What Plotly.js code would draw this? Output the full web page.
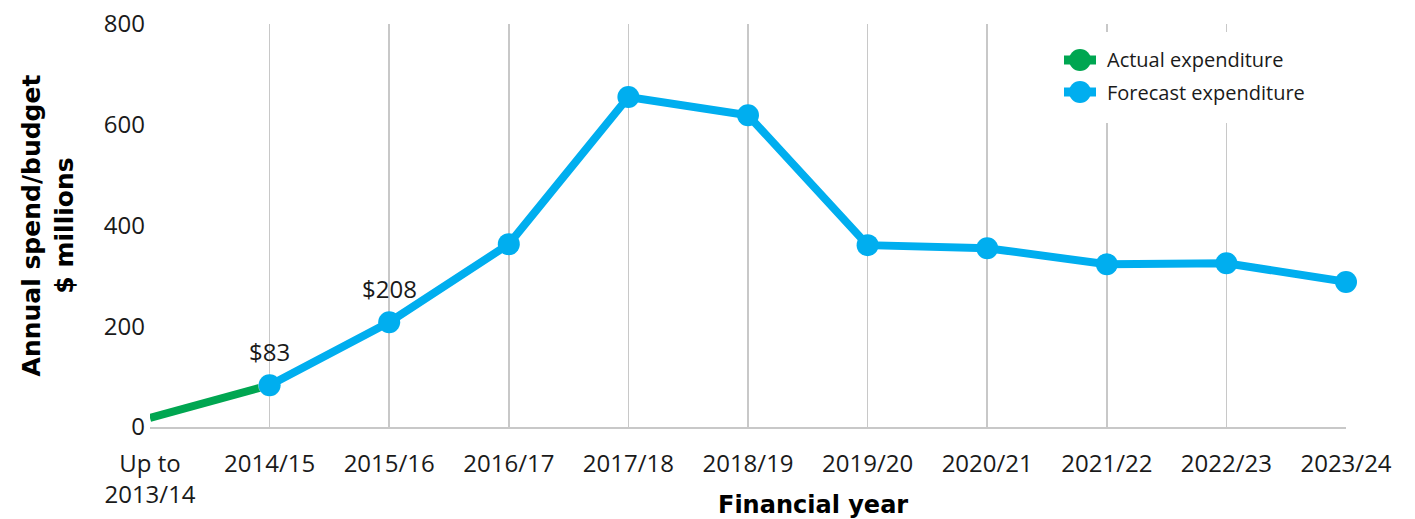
<!DOCTYPE html>
<html>
<head>
<meta charset="utf-8">
<script src="https://cdn.plot.ly/plotly-3.0.1.min.js"></script>
<style>html,body{margin:0;padding:0;background:#fff;}#chart{width:1415px;height:519px;}</style>
</head>
<body>
<div id="chart"></div>
<script>
const categories = ["Up to<br>2013/14", "2014/15", "2015/16", "2016/17", "2017/18", "2018/19", "2019/20", "2020/21", "2021/22", "2022/23", "2023/24"];
const actualCats = ["Up to<br>2013/14", "2014/15"];
const actualValues = [18, 83];
const forecastCats = ["2014/15", "2015/16", "2016/17", "2017/18", "2018/19", "2019/20", "2020/21", "2021/22", "2022/23", "2023/24"];
const forecastValues = [83, 208, 363, 655, 619, 361, 355, 323, 325, 288];
const labelCats = ["2014/15", "2015/16"];
const labelValues = [83, 208];
const yTicks = [0, 200, 400, 600, 800];
const legendNames = ["Actual expenditure", "Forecast expenditure"];

const green = "#00A651";
const blue = "#00AEEF";
const legendColors = [green, blue];

// layout geometry (pixels)
const W = 1415, H = 519, ML = 150, MR = 69, MT = 24, MB = 92;
const PW = W - ML - MR, PH = H - MT - MB;
const xp = px => (px - ML) / PW;
const yp = py => (H - MB - py) / PH;

const traces = [
  {
    type: "scatter", mode: "lines+markers", name: legendNames[0],
    x: actualCats, y: actualValues,
    line: {color: green, width: 8},
    marker: {color: green, size: actualValues.map((v, i) => i === 0 ? 0 : 22)},
    cliponaxis: false, hoverinfo: "skip"
  },
  {
    type: "scatter", mode: "lines+markers", name: legendNames[1],
    x: forecastCats, y: forecastValues,
    line: {color: blue, width: 8},
    marker: {color: blue, size: 22},
    cliponaxis: false, hoverinfo: "skip"
  }
];

const annotations = labelCats.map((c, i) => ({
  x: c, y: labelValues[i], xref: "x", yref: "y",
  text: "$" + labelValues[i], showarrow: false, yshift: 34,
  font: {family: "Open Sans, sans-serif", size: 24, color: "#1a1a1a"}
}));

annotations.push({
  xref: "paper", yref: "paper", x: xp(813), y: yp(505),
  xanchor: "center", yanchor: "middle", showarrow: false,
  text: "<b>Financial year</b>",
  font: {family: "DejaVu Sans, sans-serif", size: 24, color: "#000"}
});

const shapes = [{
  type: "rect", xref: "paper", yref: "paper", layer: "above",
  x0: xp(1045), x1: xp(1338), y0: yp(123), y1: yp(32),
  fillcolor: "#fff", line: {width: 0}
}];

const legendY = [60, 92];
legendNames.forEach((name, i) => {
  shapes.push({
    type: "line", xref: "paper", yref: "paper", layer: "above",
    x0: xp(1064), x1: xp(1096), y0: yp(legendY[i]), y1: yp(legendY[i]),
    line: {color: legendColors[i], width: 9}
  });
  shapes.push({
    type: "circle", xref: "paper", yref: "paper", layer: "above",
    xsizemode: "pixel", ysizemode: "pixel",
    xanchor: xp(1080), yanchor: yp(legendY[i]),
    x0: -11, x1: 11, y0: -11, y1: 11,
    fillcolor: legendColors[i], line: {width: 0}
  });
  annotations.push({
    xref: "paper", yref: "paper", x: xp(1105), y: yp(legendY[i]),
    xanchor: "left", yanchor: "middle", showarrow: false,
    text: name,
    font: {family: "Open Sans, sans-serif", size: 20, color: "#1a1a1a"}
  });
});

const layout = {
  width: W, height: H,
  margin: {l: ML, r: MR, t: MT, b: MB},
  paper_bgcolor: "#fff", plot_bgcolor: "#fff",
  showlegend: false,
  xaxis: {
    type: "category", categoryorder: "array", categoryarray: categories,
    tickvals: categories, ticktext: categories,
    range: [0, categories.length - 1],
    showgrid: true, gridcolor: "#c8c8c8", gridwidth: 1.5,
    showline: true, linecolor: "#c8c8c8", linewidth: 2,
    ticks: "", ticklabelstandoff: 14,
    tickfont: {family: "Open Sans, sans-serif", size: 24, color: "#1a1a1a"},
    fixedrange: true
  },
  yaxis: {
    range: [0, 800], tickvals: yTicks, ticktext: yTicks.map(String),
    showgrid: false, zeroline: false,
    showline: false,
    ticks: "", ticklabelstandoff: 4,
    tickfont: {family: "Open Sans, sans-serif", size: 24, color: "#1a1a1a"},
    title: {text: "Annual spend/budget<br>$ millions", standoff: 23,
      font: {family: "DejaVu Sans, sans-serif", size: 25, color: "#000", weight: "bold"}},
    fixedrange: true
  },
  annotations: annotations,
  shapes: shapes
};

Plotly.newPlot("chart", traces, layout, {displayModeBar: false, staticPlot: true});
</script>
</body>
</html>
